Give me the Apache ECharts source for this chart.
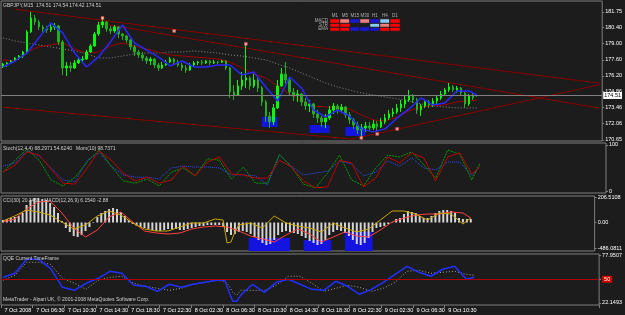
<!DOCTYPE html>
<html>
<head>
<meta charset="utf-8">
<script src="https://cdn.jsdelivr.net/npm/echarts@6/dist/echarts.min.js"></script>
<style>
html, body { margin: 0; padding: 0; background: #1c1c1c; }
#chart { width: 625px; height: 315px; }
</style>
</head>
<body>
<div id="chart"></div>
<script>
// GBPJPY M15, one candle per 30 minutes here; 151 slots incl. the empty shift on the right
const timeLabels = ['7 Oct 2008', '7 Oct 06:30', '7 Oct 10:30', '7 Oct 14:30', '7 Oct 18:30', '7 Oct 22:30',
  '8 Oct 02:30', '8 Oct 06:30', '8 Oct 10:30', '8 Oct 14:30', '8 Oct 18:30', '8 Oct 22:30',
  '9 Oct 02:30', '9 Oct 06:30', '9 Oct 10:30'];
const priceTicks = [170.65, 172.06, 173.46, 174.86, 176.20, 177.60, 179.00, 180.40, 181.75];
const lastPrice = 174.51;

// [open, close, low, high]
const ohlc = [
  [176.98,177.24,176.89,177.33],[177.24,177.33,176.98,177.41],[177.33,177.50,177.24,177.59],[177.50,177.76,177.41,177.85],
  [177.76,177.93,177.59,178.02],[177.93,178.28,177.76,178.37],[178.28,180.02,178.20,180.19],[180.02,181.23,179.93,181.75],
  [181.23,180.88,180.62,181.49],[180.88,180.45,180.19,181.06],[180.45,180.28,180.02,180.62],[180.28,180.19,179.93,180.54],
  [180.19,180.45,180.02,180.71],[180.45,180.54,180.19,180.80],[180.54,179.15,178.89,180.62],[179.15,176.89,176.29,179.32],
  [176.89,177.07,176.20,177.41],[177.07,176.89,176.55,177.41],[176.89,177.33,176.81,177.59],[177.33,177.59,177.24,177.85],
  [177.59,177.67,177.33,177.93],[177.67,178.28,177.59,178.46],[178.28,178.80,178.20,178.98],[178.80,179.84,178.72,180.02],
  [179.84,180.62,179.67,180.88],[180.62,180.88,180.36,181.32],[180.88,180.28,180.02,180.97],[180.28,180.10,179.84,180.54],
  [180.10,180.45,179.93,180.62],[180.45,179.84,179.50,180.54],[179.84,179.67,179.32,179.93],[179.67,179.32,179.06,179.76],
  [179.32,178.72,178.46,179.41],[178.72,178.28,177.93,178.89],[178.28,178.02,177.76,178.46],[178.02,177.76,177.50,178.28],
  [177.76,177.50,177.24,177.93],[177.50,177.67,177.15,177.85],[177.67,177.15,176.89,177.76],[177.15,176.89,176.63,177.33],
  [176.89,177.15,176.81,177.41],[177.15,177.41,177.07,177.59],[177.41,177.67,177.33,177.85],[177.67,177.41,177.15,177.76],
  [177.41,177.15,176.98,177.59],[177.15,176.89,176.63,177.33],[176.89,176.72,176.46,177.15],[176.72,177.15,176.63,177.33],
  [177.15,177.33,177.07,177.50],[177.33,177.41,177.15,177.50],[177.41,177.33,177.15,177.59],[177.33,177.50,177.24,177.59],
  [177.50,177.33,177.15,177.59],[177.33,177.41,177.24,177.59],[177.41,177.38,177.24,177.50],[177.38,177.50,177.33,177.59],
  [177.50,176.89,176.72,177.59],[176.89,174.81,174.29,176.98],[174.81,174.55,174.12,175.42],[174.55,175.33,174.47,175.85],
  [175.33,175.85,174.99,176.55],[175.85,176.03,175.16,178.98],[176.03,175.33,174.99,176.20],[175.33,175.85,175.16,176.37],
  [175.85,175.16,174.81,176.03],[175.16,173.95,173.60,175.33],[173.95,172.73,172.22,174.12],[172.73,172.22,171.69,173.08],
  [172.22,173.43,171.95,173.77],[173.43,175.33,173.34,175.85],[175.33,176.37,175.25,176.89],[176.37,175.85,175.51,177.41],
  [175.85,174.81,174.47,176.03],[174.81,174.47,174.03,175.16],[174.47,174.64,173.95,174.99],[174.64,173.95,173.60,174.73],
  [173.95,173.60,173.25,174.29],[173.60,173.77,173.08,174.12],[173.77,172.91,172.56,173.86],[172.91,172.56,172.13,173.25],
  [172.56,172.22,171.78,172.73],[172.22,172.56,171.69,172.91],[172.56,173.25,172.39,173.60],[173.25,173.60,172.91,173.86],
  [173.60,173.25,172.91,173.77],[173.25,173.51,173.08,173.77],[173.51,172.82,172.56,173.60],[172.82,172.39,172.04,173.08],
  [172.39,171.95,171.61,172.56],[171.95,171.52,171.17,172.22],[171.52,171.69,170.83,172.04],[171.69,171.87,171.35,172.22],
  [171.87,171.69,171.43,172.22],[171.69,172.04,171.52,172.39],[172.04,171.78,171.43,172.30],[171.78,172.22,171.69,172.56],
  [172.22,172.56,172.04,172.91],[172.56,172.91,172.39,173.25],[172.91,173.08,172.65,173.43],[173.08,173.43,172.91,173.77],
  [173.43,173.77,173.08,174.12],[173.77,174.12,173.43,174.47],[174.12,174.47,173.95,174.99],[174.47,174.12,173.86,174.64],
  [174.12,173.25,172.91,174.29],[173.25,173.60,172.73,173.77],[173.60,173.95,173.43,174.21],[173.95,173.69,173.43,174.12],
  [173.69,174.03,173.51,174.29],[174.03,174.29,173.77,174.55],[174.29,174.64,174.12,174.90],[174.64,174.99,174.47,175.16],
  [174.99,175.25,174.81,175.59],[175.25,174.99,174.81,175.42],[174.99,175.16,174.73,175.33],[175.16,174.73,174.47,175.25],
  [174.73,173.77,173.43,174.81],[173.77,174.47,173.60,174.64],[174.47,174.29,174.12,174.81],[174.51,174.51,174.42,174.54]
];

// slots where the indicator lines are sampled
const lineIdx = [0,3,6,9,12,15,18,21,24,27,30,33,36,39,42,45,48,51,54,57,60,63,66,69,72,75,78,81,84,87,90,93,96,99,102,105,108,111,114,117,119];
const spikeIdx = [0,3,6,9,12,15,18,21,24,27,30,33,36,39,42,45,48,51,54,56,57,58,59,60,63,66,69,72,75,78,81,84,87,90,93,96,99,102,105,108,111,114,117,119];

const maFast = [176.98,177.50,178.19,179.50,180.80,179.93,178.19,176.98,177.85,179.15,180.62,179.06,178.46,177.85,177.07,177.50,176.98,176.98,177.15,177.15,176.29,176.55,175.25,174.03,176.11,175.16,173.25,172.65,173.25,172.73,171.61,171.35,171.61,172.56,173.34,174.29,173.69,173.86,174.90,174.90,174.55];
const maSlow = [177.59,177.50,178.28,178.72,178.89,179.06,178.54,178.19,178.28,178.80,179.06,178.80,178.54,178.28,178.02,177.93,177.85,177.76,177.67,177.41,176.89,176.37,176.03,175.33,174.64,174.03,173.60,173.51,173.51,173.34,172.82,172.39,172.30,172.65,173.17,173.51,173.60,173.69,173.95,174.03,174.12];
const maLong = [179.50,179.24,179.06,178.89,178.72,178.54,178.37,178.11,177.76,177.76,177.93,178.11,178.19,178.19,178.28,178.28,178.37,178.28,178.19,178.02,177.93,177.76,177.59,177.24,176.89,176.46,176.03,175.59,175.25,174.99,174.73,174.55,174.38,174.21,174.03,173.77,173.60,173.51,173.43,173.43,173.43];

// trend lines: [slot, price] pairs
const trendA = [[3, 181.99], [150, 175.57]];
const trendB = [[24, 180.79], [150, 173.40]];
const trendC = [[87, 170.68], [150, 175.45]];
const trendD = [[0, 173.49], [87, 170.75]];
const fractalIdx = [25, 43, 61, 90, 94, 99];
const fractalPx = [181.23, 180.10, 178.98, 170.83, 171.17, 171.61];
// boxes: [fromSlot, toSlot, topPrice, bottomPrice]
const priceBoxes = [[65, 69, 172.65, 171.78], [77, 82, 171.95, 171.26], [86, 91, 171.78, 171.00]];

const stochMain = [41,67,91,67,24,11,30,63,89,54,22,17,26,11,41,50,33,70,67,26,52,17,17,80,52,15,7,39,78,24,11,50,78,74,85,57,28,89,80,24,59];
const stochSignal = [41,56,85,78,48,17,15,50,87,67,39,22,30,17,24,54,33,63,74,37,35,28,28,67,52,22,7,9,67,61,9,28,74,61,83,72,22,74,83,37,52];
const momentum = [54,61,87,76,50,24,20,67,83,54,35,30,30,26,50,54,52,52,50,35,35,33,13,78,54,35,39,43,65,59,33,41,65,54,72,50,46,63,63,33,52];

const macdHist = [
  0.05,0.07,0.09,0.11,0.13,0.19,0.35,0.45,0.49,0.49,
  0.47,0.45,0.39,0.31,0.19,0.03,-0.11,-0.19,-0.27,-0.29,
  -0.25,-0.17,-0.09,0.01,0.11,0.19,0.23,0.27,0.29,0.27,
  0.21,0.13,0.05,-0.03,-0.07,-0.09,-0.11,-0.13,-0.15,-0.17,
  -0.17,-0.15,-0.13,-0.13,-0.13,-0.15,-0.15,-0.13,-0.11,-0.09,
  -0.07,-0.07,-0.05,-0.05,-0.05,-0.05,-0.09,-0.19,-0.25,-0.23,
  -0.19,-0.17,-0.19,-0.23,-0.29,-0.35,-0.41,-0.45,-0.43,-0.35,
  -0.25,-0.19,-0.17,-0.19,-0.21,-0.23,-0.27,-0.31,-0.37,-0.41,
  -0.45,-0.43,-0.35,-0.25,-0.19,-0.15,-0.17,-0.21,-0.27,-0.35,
  -0.43,-0.45,-0.41,-0.31,-0.19,-0.11,-0.09,-0.07,-0.03,0.01,
  0.07,0.09,0.17,0.23,0.21,0.19,0.13,0.09,0.09,0.13,
  0.19,0.23,0.25,0.25,0.23,0.19,0.09,0.07,0.07,0.07
];
const macdSignal = [0.01,0.07,0.27,0.41,0.43,0.19,-0.11,-0.29,-0.15,0.11,0.21,0.01,-0.17,-0.21,-0.23,-0.21,-0.13,-0.09,-0.07,-0.09,-0.17,-0.27,-0.33,-0.39,-0.25,-0.13,-0.23,-0.39,-0.29,-0.19,-0.27,-0.29,-0.15,0.01,0.09,0.15,0.17,0.17,0.21,0.19,0.09];
const cci = [0.03,0.13,0.25,0.21,0.15,0.01,-0.13,-0.05,0.13,0.23,0.15,-0.01,-0.13,-0.17,-0.17,-0.09,-0.01,-0.01,0.07,0.05,-0.41,-0.39,-0.19,-0.05,-0.01,-0.11,0.13,-0.01,-0.07,-0.11,-0.19,-0.01,-0.11,-0.19,-0.13,0.05,0.23,0.23,0.17,0.05,0.19,0.17,-0.03,0.09];
const cciTicks = [-0.51, 0, 0.51];
const cciTickLabels = ['-486.0811', '0.00', '206.5108'];
// boxes: [fromSlot, toSlot, topValue]
const cciBoxes = [[63, 72, -0.31], [77, 83, -0.35], [88, 94, -0.19]];

const qqeFast = [52.4,57.1,73.7,73.7,63.0,40.5,36.9,45.3,51.2,59.5,57.1,42.9,41.7,35.7,44.1,40.5,44.1,46.4,48.8,48.8,35.7,23.9,23.9,31.0,44.1,34.5,46.4,50.0,44.1,38.1,36.9,47.6,41.7,32.2,38.1,46.4,55.9,65.4,58.3,53.6,61.9,65.4,50.0,52.4];
const qqeSlow = [48.8,54.8,70.2,70.2,67.8,51.2,45.3,38.1,48.8,52.4,53.6,45.3,41.7,39.3,36.9,39.3,44.1,46.4,48.8,47.6,42.9,34.5,31.0,36.9,36.9,36.9,42.9,53.6,53.6,45.3,35.7,39.3,42.9,40.5,35.7,39.3,46.4,59.5,60.7,57.1,58.3,59.5,55.9,54.8];
const qqeTicks = [22.1493, 50, 77.9507];
const qqeTickLabels = ['22.1493', '50', '77.9507'];

// signal table (0 = empty, 1 red, 2 pink, 3 blue, 4 light blue)
const tfLabels = ['M1', 'M5', 'M15', 'M30', 'H1', 'H4', 'D1'];
const sigRows = ['EMA', 'STR', 'MACD'];
const sigEMA = [1, 1, 3, 3, 3, 1, 1];
const sigSTR = [1, 1, 0, 0, 4, 2, 1];
const sigMACD = [1, 2, 3, 2, 3, 4, 1];

const slots = Array.from({ length: 151 }, (_, i) => i);
const pairs = (xs, ys) => xs.map((x, k) => [x, ys[k]]);
const font = 'Liberation Sans';
const lbl = { color: '#ffffff', fontSize: 5.5, fontFamily: font };
const border = '#7f7f7f';

const cells = [];
[sigEMA, sigSTR, sigMACD].forEach((row, r) => row.forEach((v, c) => { if (v) cells.push([c, r, v]); }));

function xAx(gi, labels) {
  const every = (i) => i % 8 === 0 && i / 8 < timeLabels.length;
  return {
    type: 'category', gridIndex: gi, data: slots, boundaryGap: true,
    axisLine: { show: false },
    splitLine: { show: false },
    axisTick: labels ? { show: true, interval: every, length: 3, lineStyle: { color: border } } : { show: false },
    axisLabel: labels ? Object.assign({ show: true, interval: every, align: 'left', margin: 2,
      showMinLabel: true, hideOverlap: false,
      formatter: (v) => ' ' + timeLabels[Number(v) / 8] }, lbl) : { show: false }
  };
}
function yAx(gi, min, max, ticks, fmt) {
  return {
    type: 'value', gridIndex: gi, position: 'right', min: min, max: max,
    axisLine: { show: false }, splitLine: { show: false },
    axisTick: { show: true, length: 2, customValues: ticks, lineStyle: { color: border } },
    axisLabel: Object.assign({ customValues: ticks, formatter: fmt, margin: 3, hideOverlap: false }, lbl)
  };
}
const pick = (ticks, labels) => (v) => labels[ticks.findIndex(t => Math.abs(t - v) < 1e-6)];

const chart = echarts.init(document.getElementById('chart'), null, { renderer: 'canvas' });
const option = {
  backgroundColor: '#1c1c1c',
  animation: false,
  title: [
    { text: 'GBPJPY,M15  174.51 174.54 174.42 174.51', left: 3, top: 3 },
    { text: 'Stoch(12,4,4) 68.2971 54.6240   Mom(10) 98.7371', left: 3, top: 146 },
    { text: 'CCI(30) 20.3451   MACD(12,26,9) 6.1540 -2.88', left: 3, top: 198 },
    { text: 'QQE Current TimeFrame', left: 3, top: 256 },
    { text: 'MetaTrader - Alpari UK, \u00a9 2001-2008 MetaQuotes Software Corp.', left: 3, top: 297 }
  ].map(t => Object.assign(t, { padding: 0, textStyle: { color: '#d0d0d0', fontSize: 5, fontWeight: 'normal', fontFamily: font } })),
  grid: [
    { left: 1, right: 19, top: 1, height: 140 },
    { left: 1, right: 19, top: 143, height: 50 },
    { left: 1, right: 19, top: 196, height: 55 },
    { left: 1, right: 19, top: 254, height: 51 }
  ].map(g => Object.assign(g, { show: true, borderColor: border, borderWidth: 1 }))
   .concat([{ left: 330, top: 19, width: 70, height: 12, show: false }]),
  xAxis: [
    xAx(0, false), xAx(1, false), xAx(2, false), xAx(3, true),
    { type: 'category', gridIndex: 4, data: tfLabels, position: 'top',
      axisLine: { show: false }, axisTick: { show: false },
      axisLabel: { color: '#b0b0b0', fontSize: 4.5, margin: 1, interval: 0, fontFamily: font } }
  ],
  yAxis: [
    yAx(0, 170.56, 182.70, priceTicks, (v) => v.toFixed(2)),
    yAx(1, -4.3, 104.3, [0, 100], (v) => String(Math.round(v))),
    yAx(2, -0.57, 0.53, cciTicks, pick(cciTicks, cciTickLabels)),
    yAx(3, 19.5, 80, qqeTicks, (v) => {
      const s = pick(qqeTicks, qqeTickLabels)(v);
      return s === '50' ? '{r|50}' : s;
    }),
    { type: 'category', gridIndex: 4, data: sigRows,
      axisLine: { show: false }, axisTick: { show: false },
      axisLabel: { color: '#b0b0b0', fontSize: 4.5, margin: 2, interval: 0, fontFamily: font } }
  ],
  visualMap: {
    show: false, type: 'piecewise', seriesIndex: 17, dimension: 2,
    pieces: [
      { value: 1, color: '#ff0000' }, { value: 2, color: '#f08080' },
      { value: 3, color: '#1818d0' }, { value: 4, color: '#87cefa' }
    ]
  },
  series: [
    { type: 'candlestick', xAxisIndex: 0, yAxisIndex: 0, data: ohlc, barWidth: 2, z: 3,
      itemStyle: { color: '#00ff00', color0: '#22b022', borderColor: '#00ff00', borderColor0: '#22b022', borderWidth: 1 },
      markLine: { silent: true, symbol: 'none', data: [{ yAxis: lastPrice }],
        lineStyle: { color: border, type: 'solid', width: 1 },
        label: { position: 'end', formatter: lastPrice.toFixed(2), backgroundColor: '#ffffff', color: '#000000',
          fontSize: 5.5, padding: [1, 1, 0, 1], distance: 1, fontFamily: font } },
      markArea: { silent: true, itemStyle: { color: '#1414e0', opacity: 1 },
        data: priceBoxes.map(b => [{ xAxis: b[0], yAxis: b[2] }, { xAxis: b[1], yAxis: b[3] }]) } },
    { type: 'line', xAxisIndex: 0, yAxisIndex: 0, data: pairs(lineIdx, maLong), symbol: 'none',
      lineStyle: { color: '#8a8a8a', width: 1, type: [1, 2] } },
    { type: 'line', xAxisIndex: 0, yAxisIndex: 0, data: pairs(lineIdx, maSlow), symbol: 'none',
      lineStyle: { color: '#a00000', width: 1 } },
    { type: 'line', xAxisIndex: 0, yAxisIndex: 0, data: pairs(lineIdx, maFast), symbol: 'none', z: 4,
      lineStyle: { color: '#2828ff', width: 1.5 } },
    { type: 'line', xAxisIndex: 0, yAxisIndex: 0, data: trendA, symbol: 'none', lineStyle: { color: '#8b0000', width: 1 } },
    { type: 'line', xAxisIndex: 0, yAxisIndex: 0, data: trendB, symbol: 'none', lineStyle: { color: '#8b0000', width: 1 } },
    { type: 'line', xAxisIndex: 0, yAxisIndex: 0, data: trendC, symbol: 'none', lineStyle: { color: '#8b0000', width: 1 } },
    { type: 'line', xAxisIndex: 0, yAxisIndex: 0, data: trendD, symbol: 'none', lineStyle: { color: '#8b0000', width: 1 } },
    { type: 'scatter', xAxisIndex: 0, yAxisIndex: 0, data: pairs(fractalIdx, fractalPx), symbol: 'rect', symbolSize: 3, z: 5,
      itemStyle: { color: '#ffd0d0', borderColor: '#ff2020', borderWidth: 0.5 } },

    { type: 'line', xAxisIndex: 1, yAxisIndex: 1, data: pairs(lineIdx, momentum), symbol: 'none',
      lineStyle: { color: '#2a50ff', width: 1, type: [1, 1] } },
    { type: 'line', xAxisIndex: 1, yAxisIndex: 1, data: pairs(lineIdx, stochMain), symbol: 'none',
      lineStyle: { color: '#00a000', width: 1, type: [2, 1] } },
    { type: 'line', xAxisIndex: 1, yAxisIndex: 1, data: pairs(lineIdx, stochSignal), symbol: 'none',
      lineStyle: { color: '#c00000', width: 1 } },

    { type: 'bar', xAxisIndex: 2, yAxisIndex: 2, data: macdHist, barWidth: 2, z: 3,
      itemStyle: { color: '#d4d4d4' },
      markArea: { silent: true, itemStyle: { color: '#1414e0', opacity: 1 },
        data: cciBoxes.map(b => [{ xAxis: b[0], yAxis: b[2] }, { xAxis: b[1], yAxis: -0.57 }]) } },
    { type: 'line', xAxisIndex: 2, yAxisIndex: 2, data: pairs(lineIdx, macdSignal), symbol: 'none', z: 4,
      lineStyle: { color: '#ff4040', width: 1 } },
    { type: 'line', xAxisIndex: 2, yAxisIndex: 2, data: pairs(spikeIdx, cci), symbol: 'none', z: 4,
      lineStyle: { color: '#c8a400', width: 1 } },

    { type: 'line', xAxisIndex: 3, yAxisIndex: 3, data: pairs(spikeIdx, qqeSlow), symbol: 'none',
      lineStyle: { color: '#a0a0a0', width: 1, type: [1, 2] },
      markLine: { silent: true, symbol: 'none', data: [{ yAxis: 50 }], label: { show: false },
        lineStyle: { color: '#b00000', width: 1, type: 'solid' } } },
    { type: 'line', xAxisIndex: 3, yAxisIndex: 3, data: pairs(spikeIdx, qqeFast), symbol: 'none', z: 4,
      lineStyle: { color: '#2030ff', width: 1.5 } },

    { type: 'heatmap', xAxisIndex: 4, yAxisIndex: 4, data: cells,
      itemStyle: { borderColor: '#1c1c1c', borderWidth: 1 } }
  ]
};
option.yAxis[3].axisLabel.rich = { r: { backgroundColor: '#cc0000', color: '#ffffff', fontSize: 5.5, padding: [1, 2, 0, 2] } };
chart.setOption(option);
window.addEventListener('resize', chart.resize);
</script>
</body>
</html>
